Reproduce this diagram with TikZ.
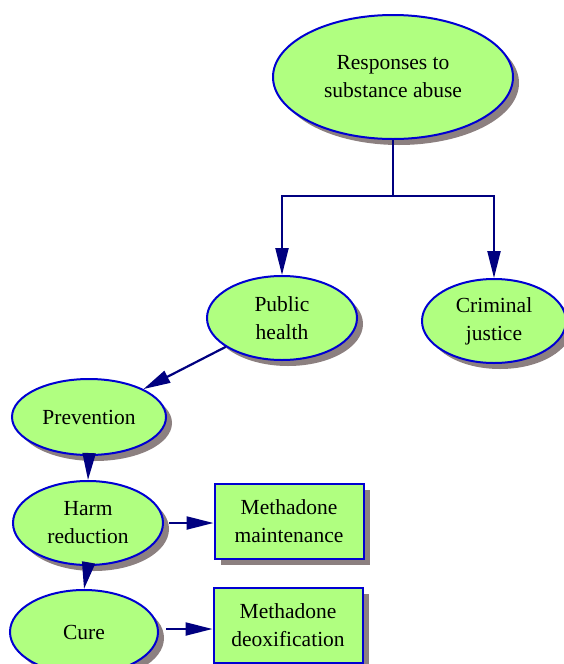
\documentclass[tikz,border=0pt]{standalone}
\usepackage{fontspec}
\setmainfont{Liberation Serif}
\usetikzlibrary{shapes.geometric,shadows,arrows.meta}
\definecolor{nodefill}{RGB}{176,255,128}
\definecolor{nodeline}{RGB}{0,0,210}
\definecolor{linkcol}{RGB}{0,0,128}
\definecolor{shadowcol}{RGB}{140,128,128}
\tikzset{
  base/.style={fill=nodefill, draw=nodeline, line width=2pt,
    font=\fontsize{21.5}{28}\selectfont, align=center, inner sep=0pt,
    drop shadow={shadow xshift=6pt, shadow yshift=-6pt, fill=shadowcol, opacity=1}},
  oval/.style={base, ellipse, minimum width=#1},
  card/.style={base, rectangle, minimum width=149pt, minimum height=75pt},
  link/.style={draw=linkcol, line width=2.2pt},
  arr/.style={link, -{Triangle[length=27pt,width=13pt]}}
}
\begin{document}
\begin{tikzpicture}[x=1pt,y=-1pt]
\useasboundingbox[fill=white] (0,0) rectangle (564,664);

\node[oval=240pt, minimum height=124pt] (root) at (393,77) {Responses to\\substance abuse};
\node[oval=150pt, minimum height=84pt] (ph) at (282,318) {Public\\health};
\node[oval=144pt, minimum height=84pt] (cj) at (494,321) {Criminal\\justice};
\node[oval=154pt, minimum height=76pt] (prev) at (89,417) {Prevention};
\node[oval=150pt, minimum height=84pt] (harm) at (88,523) {Harm\\reduction};
\node[oval=148pt, minimum height=84pt] (cure) at (84,632) {Cure};
\node[card] (mm) at (289,521) {Methadone\\maintenance};
\node[card] (md) at (288,625) {Methadone\\deoxification};

\coordinate (fork) at (393,196);
\draw[link] (root.south) -- (fork);
\draw[arr] (fork) -| (ph.north);
\draw[arr] (fork) -| (cj.north);
\draw[arr] (ph) -- (prev);
\draw[arr] (prev.south) -- (harm.north);
\draw[arr] (harm.south) -- (cure.north);
\draw[arr] (harm.east) ++(5,0) coordinate (h1) -- (mm.west |- h1);
\draw[arr] (cure.east) ++(7,-3) coordinate (c1) -- (md.west |- c1);
\end{tikzpicture}
\end{document}
